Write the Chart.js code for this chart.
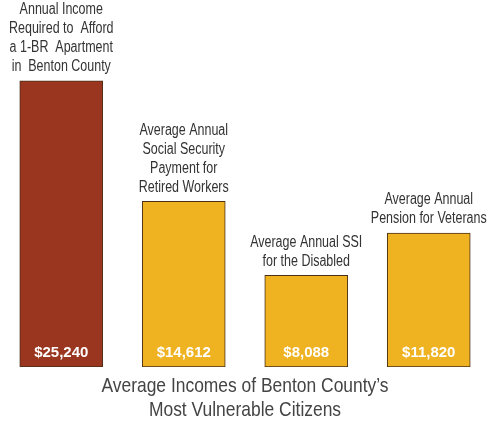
<!DOCTYPE html>
<html>
<head>
<meta charset="utf-8">
<script src="https://cdn.jsdelivr.net/npm/chart.js@4"></script>
<style>
  html, body { margin: 0; padding: 0; background: #fff; }
  #wrap { width: 490px; height: 425px; position: relative; }
</style>
</head>
<body>
<div id="wrap"><canvas id="chart"></canvas></div>
<script>
// data
const categories = [
    ['Annual Income', 'Required to  Afford', 'a 1-BR  Apartment', 'in  Benton County'],
    ['Average Annual', 'Social Security', 'Payment for', 'Retired Workers'],
    ['Average Annual SSI', 'for the Disabled'],
    ['Average Annual', 'Pension for Veterans']
];
const incomes = [25240, 14612, 8088, 11820];
const barColors = ['#9a3520', '#efb220', '#efb220', '#efb220'];
const titleLines = ['Average Incomes of Benton County\u2019s', 'Most Vulnerable Citizens'];

// no condensed font installed, so squeeze Liberation Sans sideways
function narrowText(ctx, text, x, y, squeeze) {
    ctx.save();
    ctx.translate(x, y);
    ctx.scale(squeeze, 1);
    ctx.fillText(text, 0, 0);
    ctx.restore();
}

// labels above bars, values inside, title below
const textPlugin = {
    id: 'textPlugin',
    afterDatasetsDraw(chart) {
        const ctx = chart.ctx;
        const meta = chart.getDatasetMeta(0);
        ctx.save();
        ctx.textAlign = 'center';
        ctx.textBaseline = 'middle';
        meta.data.forEach((bar, i) => {
            // category text
            ctx.fillStyle = '#333';
            ctx.font = '16px "Liberation Sans", Arial, sans-serif';
            const lines = categories[i];
            const lh = 19;
            let y0 = bar.y - 14 - (lines.length - 1) * lh;
            if (y0 < 9) y0 = 9;
            lines.forEach((t, j) => narrowText(ctx, t, bar.x, y0 + j * lh, 0.78));
            // value
            ctx.fillStyle = '#fff';
            ctx.font = 'bold 15px "Liberation Sans", Arial, sans-serif';
            ctx.fillText('$' + incomes[i].toLocaleString('en-US'), bar.x, bar.base - 14);
        });
        ctx.fillStyle = '#444';
        ctx.font = '21px "Liberation Sans", Arial, sans-serif';
        narrowText(ctx, titleLines[0], 245, 386, 0.83);
        narrowText(ctx, titleLines[1], 245, 410, 0.83);
        ctx.restore();
    }
};

const ctx = document.getElementById('chart').getContext('2d');
new Chart(ctx, {
    type: 'bar',
    data: {
        labels: categories.map(c => c.join(' ')),
        datasets: [{
            data: incomes,
            backgroundColor: barColors,
            borderColor: '#4a3018',
            borderWidth: 1,
            borderSkipped: false,
            barThickness: 83
        }]
    },
    options: {
        responsive: true,
        maintainAspectRatio: false,
        animation: false,
        layout: { padding: { top: 27, bottom: 58, left: 0, right: 0 } },
        plugins: {
            legend: { display: false },
            tooltip: { enabled: false }
        },
        scales: {
            x: { display: false },
            y: { display: false, min: 0, max: 30000 }
        }
    },
    plugins: [textPlugin]
});
</script>
</body>
</html>
